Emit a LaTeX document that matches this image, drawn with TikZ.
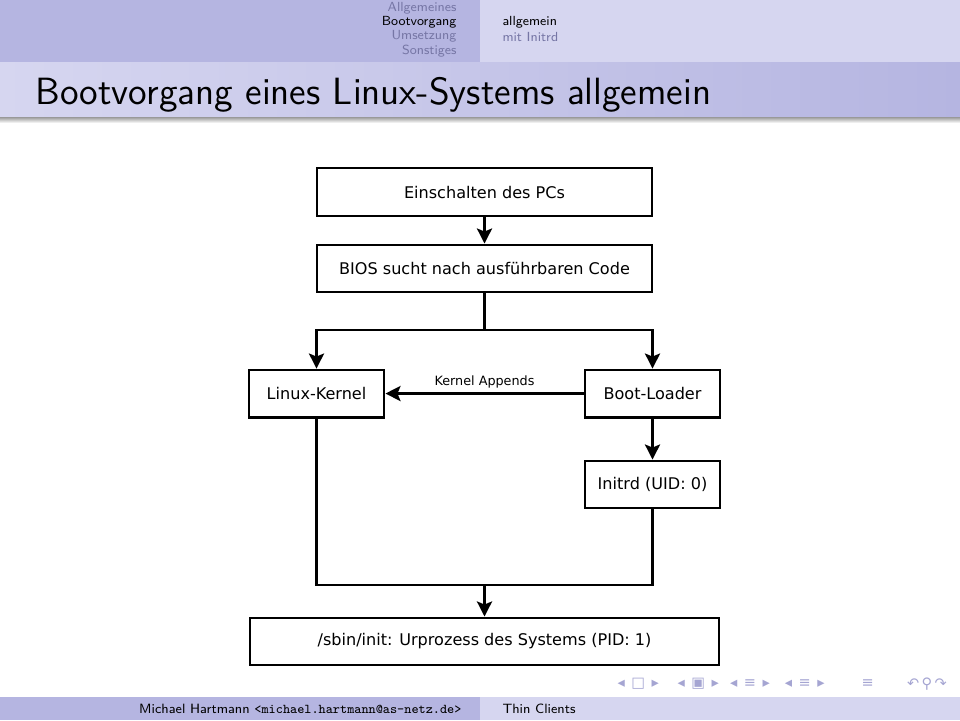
\documentclass[tikz,border=0pt]{standalone}
\usepackage{fontspec}
\newfontfamily\diafont{DejaVu Sans}
\usepackage{xcolor}
\usepackage{tikz}
\usetikzlibrary{arrows.meta,positioning,calc}

\definecolor{headdark}{RGB}{181,181,225}
\definecolor{headlight}{RGB}{214,214,240}
\definecolor{inactive}{RGB}{118,118,165}
\definecolor{navsym}{RGB}{165,165,210}
\newcommand{\navgap}{\hspace{2.5pt}}

\begin{document}
\begin{tikzpicture}[
  block/.style={draw, line width=1.1pt, minimum width=1.8cm, minimum height=0.627cm,
    inner sep=0pt, align=center, font=\diafont\fontsize{6.1}{7}\selectfont},
  arr/.style={-{Stealth[length=2mm, width=2mm, inset=0.4mm]}, line width=1.1pt},
  wire/.style={line width=1.1pt},
  headtext/.style={inner sep=0pt, font=\sffamily\fontsize{5.0}{6}\selectfont},
  foottext/.style={inner sep=0pt, font=\sffamily\fontsize{5.1}{6}\selectfont},
  nav/.style={inner sep=0pt, text=navsym, font=\diafont\fontsize{5.5}{7}\selectfont}
]
\useasboundingbox (0,0) rectangle (12.8,-9.6);

% Headline
\fill[headdark] (0,0) rectangle (6.4,-0.827);
\fill[headlight] (6.4,0) rectangle (12.8,-0.827);
\node[headtext, anchor=east, text=inactive] (secA) at (6.093,-0.11) {Allgemeines};
\node[headtext, anchor=east] (secB) at (6.093,-0.30) {Bootvorgang};
\node[headtext, anchor=east, text=inactive] (secC) at (6.093,-0.49) {Umsetzung};
\node[headtext, anchor=east, text=inactive] (secD) at (6.093,-0.68) {Sonstiges};
\node[headtext, anchor=west] (subA) at (6.693,-0.30) {allgemein};
\node[headtext, anchor=west, text=inactive] (subB) at (6.693,-0.49) {mit Initrd};

% Frame title
\shade[left color=headlight, right color=headdark] (0,-0.827) rectangle (12.8,-1.56);
\shade[top color=black!40, bottom color=white] (0,-1.56) rectangle (12.8,-1.64);
\node[anchor=base west, inner sep=0pt, font=\sffamily\fontsize{14.4}{16}\selectfont]
  (title) at (0.467,-1.387) {Bootvorgang eines Linux-Systems allgemein};

% Power on
\node[block, minimum width=4.467cm, minimum height=0.64cm] (power) at (6.46,-2.56)
  {Einschalten des PCs};

% BIOS
\node[block, minimum width=4.467cm] (bios) at (6.46,-3.58)
  {BIOS sucht nach ausführbaren Code};

% Kernel
\node[block] (kernel) at (4.22,-5.247) {Linux-Kernel};

% Boot loader
\node[block] (loader) at (8.70,-5.247) {Boot-Loader};

% Initrd
\node[block] (initrd) at (8.70,-6.46) {Initrd (UID: 0)};

% init
\node[block, minimum width=6.253cm] (init) at (6.46,-8.553)
  {/sbin/init: Urprozess des Systems (PID: 1)};

% Junctions
\coordinate (split) at (6.46,-4.40);
\coordinate (merge) at (6.46,-7.80);

% Arrows
\draw[arr] (power) -- (bios);
\draw[wire] (bios) -- (split);
\draw[arr] (split) -| (kernel);
\draw[arr] (split) -| (loader);
\draw[arr] (loader) -- node[above, inner sep=1.5pt,
  font=\diafont\fontsize{4.85}{6}\selectfont] {Kernel Appends} (kernel);
\draw[arr] (loader) -- (initrd);
\draw[wire] (initrd) |- (merge) -| (kernel);
\draw[arr] (merge) -- (init);

% Navigation symbols
\node[nav] (navA) at (8.51,-9.12) {◂\navgap□\navgap▸};
\node[nav] (navB) at (9.31,-9.12) {◂\navgap▣\navgap▸};
\node[nav] (navC) at (10.00,-9.12) {◂\navgap≡\navgap▸};
\node[nav] (navD) at (10.73,-9.12) {◂\navgap≡\navgap▸};
\node[nav] (navE) at (11.57,-9.12) {≡};
\node[nav] (navF) at (12.36,-9.12) {↶\,⚲\,↷};

% Footline
\fill[headdark] (0,-9.293) rectangle (6.4,-9.6);
\fill[headlight] (6.4,-9.293) rectangle (12.8,-9.6);
\node[foottext, anchor=east] (author) at (6.16,-9.453)
  {Michael Hartmann {\ttfamily<michael.hartmann@as-netz.de>}};
\node[foottext, anchor=west] (short) at (6.693,-9.453) {Thin Clients};

\end{tikzpicture}
\end{document}
